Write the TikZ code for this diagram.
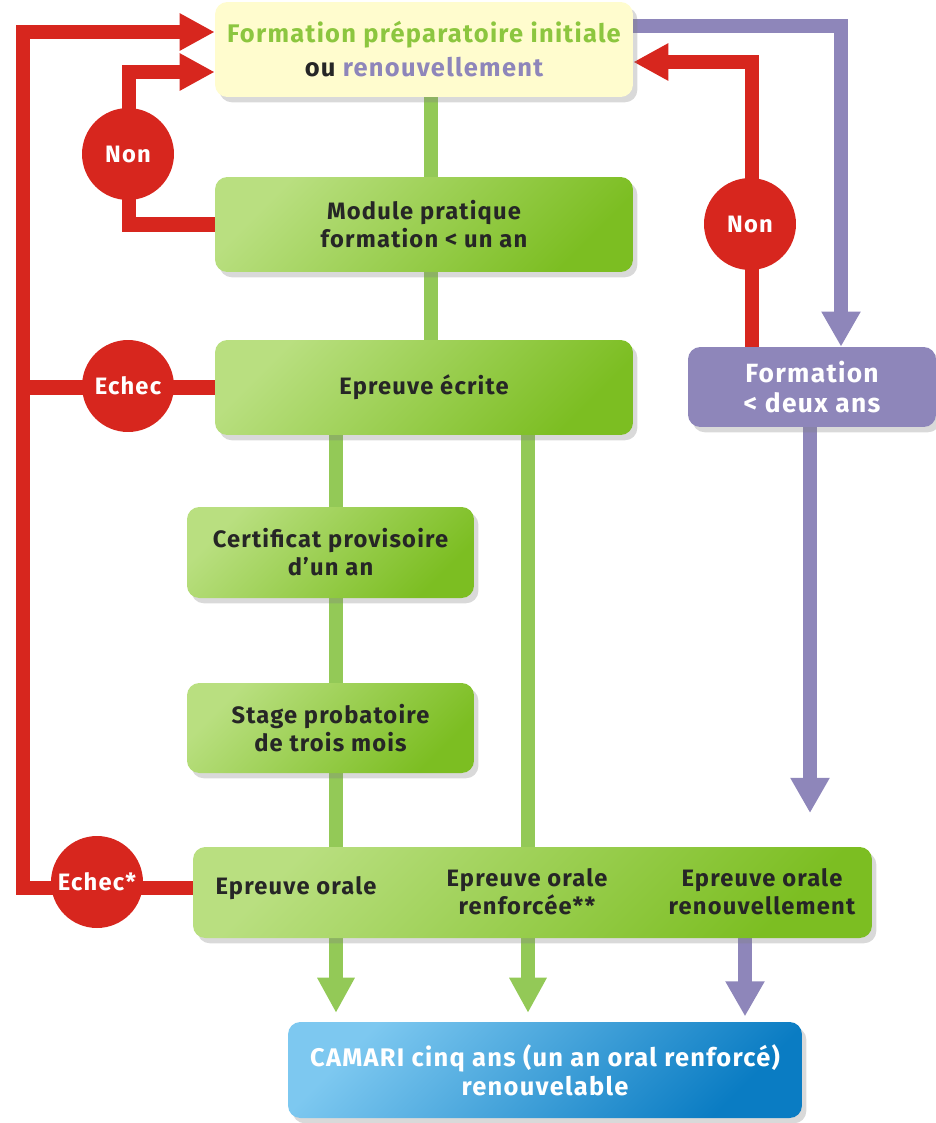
\documentclass[tikz,border=0pt]{standalone}
\usepackage{fontspec}
\setmainfont{Fira Sans}[LetterSpace=5]
\usetikzlibrary{arrows.meta,shadows,backgrounds}
\definecolor{camred}{HTML}{D7261E}
\definecolor{camgreen}{HTML}{93C957}
\definecolor{greenL}{HTML}{B9DF80}
\definecolor{greenD}{HTML}{7CBE22}
\definecolor{camyellow}{HTML}{FFFCCE}
\definecolor{campurple}{HTML}{8E86BA}
\definecolor{blueL}{HTML}{7DC8F0}
\definecolor{blueD}{HTML}{0A7CC3}
\definecolor{titlegreen}{HTML}{8CC63F}
\tikzset{
  box/.style={rounded corners=7pt, align=center, inner sep=0pt,
    font=\bfseries\fontsize{13.5}{16}\selectfont, text=black!85,
    drop shadow={opacity=0.3, shadow xshift=2.5pt, shadow yshift=-3pt}},
  greenbox/.style={box, left color=greenL, right color=greenD, shading angle=45},
  bluebox/.style={box, left color=blueL, right color=blueD, shading angle=45, text=white},
  purplebox/.style={box, fill=campurple, text=white},
  topbox/.style={box, fill=camyellow, font=\bfseries\fontsize{14.5}{19.3}\selectfont},
  oraltext/.style={align=center, font=\bfseries\fontsize{13.5}{16}\selectfont, text=black!85},
  decision/.style={circle, fill=camred, text=white, minimum size=1.84cm, inner sep=0pt,
    font=\bfseries\fontsize{13.5}{15}\selectfont},
  redline/.style={draw=camred, line width=8.5pt},
  redarrow/.style={redline, -{Triangle[width=20pt,length=20pt]}},
  greenline/.style={draw=camgreen, line width=8.5pt},
  greenarrow/.style={greenline, -{Triangle[width=20pt,length=20pt]}},
  purplearrow/.style={draw=campurple, line width=8.5pt, -{Triangle[width=21pt,length=20pt]}}
}
\begin{document}
\begin{tikzpicture}[x=0.02cm, y=-0.02cm]
  \useasboundingbox (0,0) rectangle (936,1123);
  \node[topbox, minimum width=8.36cm, minimum height=1.9cm] (top) at (424,49.5)
    {\textcolor{titlegreen}{Formation préparatoire initiale}\\ou \textcolor{campurple}{renouvellement}};
  \node[greenbox, minimum width=8.36cm, minimum height=1.9cm] (module) at (424,224.5) {Module pratique\\formation < un an};
  \node[greenbox, minimum width=8.36cm, minimum height=1.9cm] (ecrite) at (424,387.5) {Epreuve écrite};
  \node[greenbox, minimum width=5.74cm, minimum height=1.82cm] (certif) at (330.5,552.5) {Certificat provisoire\\d’un an};
  \node[greenbox, minimum width=5.74cm, minimum height=1.8cm] (stage) at (330.5,728) {Stage probatoire\\de trois mois};
  \node[greenbox, minimum width=13.58cm, minimum height=1.82cm] (oral) at (532.5,892.5) {};
  \node[oraltext] (oralA) at (296,888) {Epreuve orale};
  \node[oraltext] (oralB) at (527,892) {Epreuve orale\\renforcée**};
  \node[oraltext] (oralC) at (762,892) {Epreuve orale\\renouvellement};
  \node[bluebox, minimum width=10.28cm, minimum height=1.92cm, font=\bfseries\fontsize{14.5}{16.5}\selectfont] (camari) at (545,1070)
    {CAMARI cinq ans (un an oral renforcé)\\renouvelable};
  \node[purplebox, minimum width=4.96cm, minimum height=1.6cm, font=\bfseries\fontsize{15}{17}\selectfont] (deux) at (812,387) {Formation\\< deux ans};
  \coordinate (cornerTL) at (23,32);
  \coordinate (cornerBL) at (23,888);
  \coordinate (nonLtop) at (129,72);
  \coordinate (nonRtop) at (752,62);
  \coordinate (purpTR) at (841,26);
  \coordinate (purpEnd) at (810,813);
  \coordinate (colA) at (336,0);
  \coordinate (colB) at (528,0);
  \coordinate (colC) at (745,0);
  \begin{scope}[on background layer]
    \draw[greenline] ([xshift=4pt]top.south) -- ([xshift=4pt]module.north);
    \draw[greenline] ([xshift=4pt]module.south) -- ([xshift=4pt]ecrite.north);
    \draw[greenline] (ecrite.south -| colA) -- (certif.north -| colA);
    \draw[greenline] (certif.south -| colA) -- (stage.north -| colA);
    \draw[greenline] (stage.south -| colA) -- (oral.north -| colA);
    \draw[greenline] (ecrite.south -| colB) -- (oral.north -| colB);
    \draw[greenarrow, shorten >=5pt] (oral.south -| colA) -- (camari.north -| colA);
    \draw[greenarrow, shorten >=5pt] (oral.south -| colB) -- (camari.north -| colB);
    \draw[purplearrow, shorten >=3pt] (oral.south -| colC) -- (camari.north -| colC);
    \draw[purplearrow] (top.east |- purpTR) -- (purpTR) -- (deux.north -| purpTR);
    \draw[purplearrow] (deux.south -| purpEnd) -- (purpEnd);
    \draw[redarrow] (oral.west |- cornerBL) -- (cornerBL) -- (cornerTL) -- (top.west |- cornerTL);
    \draw[redline] (ecrite.west) -- (ecrite.west -| cornerTL);
    \draw[redarrow] (module.west) -| (nonLtop) -- (top.west |- nonLtop);
    \draw[redarrow] (deux.north -| nonRtop) -- (nonRtop) -- (top.east |- nonRtop);
  \end{scope}
  \node[decision] (nonL) at (128,154) {Non};
  \node[decision] (nonR) at (750,224) {Non};
  \node[decision] (echecE) at (128,386) {Echec};
  \node[decision] (echecO) at (97,882) {Echec*};
\end{tikzpicture}
\end{document}
